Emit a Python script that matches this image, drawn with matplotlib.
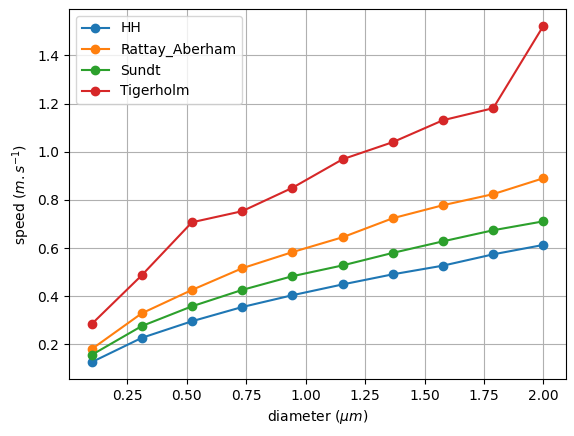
import matplotlib
matplotlib.use('Agg')
import matplotlib.pyplot as plt

diameter = [0.1, 0.311, 0.522, 0.733, 0.944, 1.156, 1.367, 1.578, 1.789, 2.0]
hh = [0.126, 0.227, 0.296, 0.355, 0.404, 0.449, 0.491, 0.527, 0.574, 0.613]
rattay = [0.180, 0.329, 0.426, 0.516, 0.583, 0.645, 0.724, 0.778, 0.824, 0.890]
sundt = [0.156, 0.276, 0.358, 0.426, 0.483, 0.528, 0.580, 0.628, 0.674, 0.711]
tigerholm = [0.284, 0.487, 0.707, 0.753, 0.850, 0.969, 1.040, 1.131, 1.181, 1.523]

fig = plt.figure(figsize=(5.74, 4.36), dpi=100)
ax = fig.add_axes([69/574, 1-379/436, (566-69)/574, (379-9)/436])
ax.plot(diameter, hh, 'o-', label='HH')
ax.plot(diameter, rattay, 'o-', label='Rattay_Aberham')
ax.plot(diameter, sundt, 'o-', label='Sundt')
ax.plot(diameter, tigerholm, 'o-', label='Tigerholm')
ax.set_xlabel(r'diameter ($\mu m$)')
ax.set_ylabel(r'speed ($m.s^{-1}$)')
ax.grid(True)
ax.legend(loc='upper left')
fig.savefig('out.png', dpi=100)
